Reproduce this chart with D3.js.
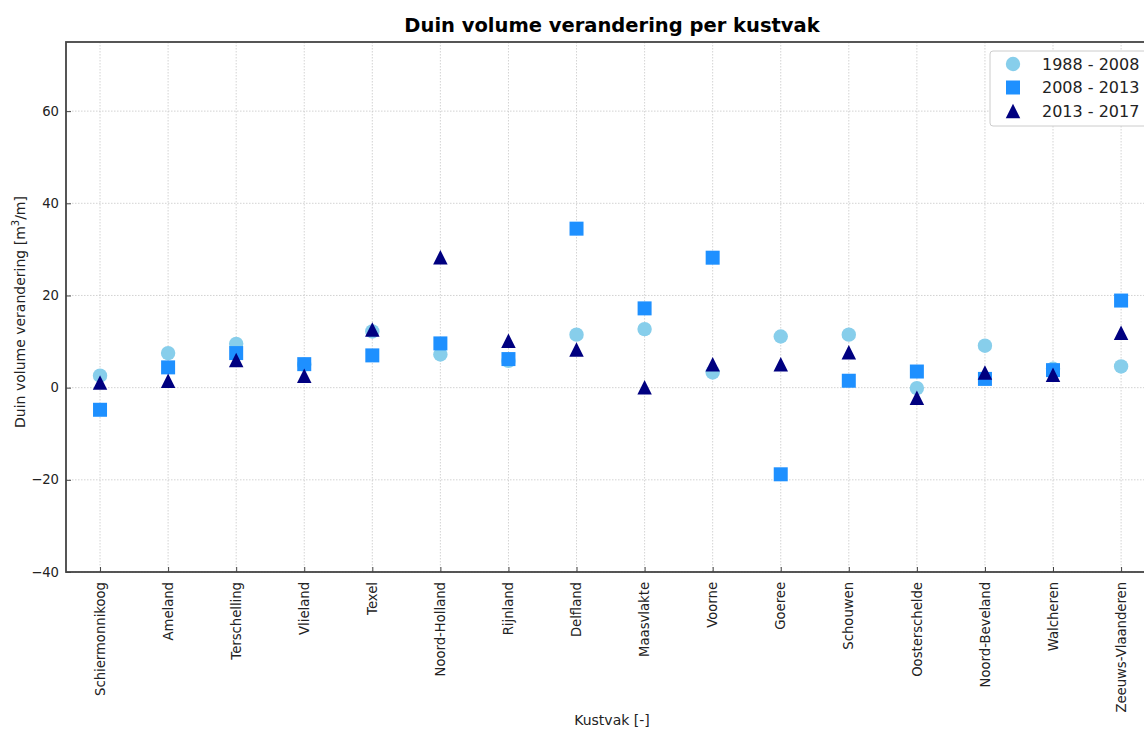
<!DOCTYPE html>
<html>
<head>
<meta charset="utf-8">
<script src="https://cdn.jsdelivr.net/npm/d3@7"></script>
<style>
  html, body { margin: 0; padding: 0; background: #fff; overflow: hidden; }
  svg { display: block; font-family: "DejaVu Sans", sans-serif; }
</style>
</head>
<body>
<svg id="chart" width="1144" height="729"></svg>
<script>
// Coastal sections (kustvakken), north to south
const kustvakken = ["Schiermonnikoog", "Ameland", "Terschelling", "Vlieland", "Texel",
  "Noord-Holland", "Rijnland", "Delfland", "Maasvlakte", "Voorne", "Goeree",
  "Schouwen", "Oosterschelde", "Noord-Beveland", "Walcheren", "Zeeuws-Vlaanderen"];

// Dune volume change per period [m3/m]
const periode1988_2008 = [2.6, 7.5, 9.5, 5.0, 12.2, 7.2, 5.8, 11.5, 12.7, 3.3, 11.1, 11.5, -0.1, 9.1, 4.1, 4.6];
const periode2008_2013 = [-4.8, 4.4, 7.5, 5.1, 7.0, 9.6, 6.2, 34.5, 17.2, 28.2, -18.8, 1.5, 3.5, 1.9, 3.8, 18.9];
const periode2013_2017 = [1.1, 1.5, 6.0, 2.6, 12.6, 28.3, 10.2, 8.3, 0.1, 5.1, 5.1, 7.7, -2.2, 3.3, 2.8, 11.9];

const yTicks = [-40, -20, 0, 20, 40, 60];
const periodLabels = ["1988 - 2008", "2008 - 2013", "2013 - 2017"];

const svg = d3.select("#chart");
const plotLeft = 66, plotTop = 42, plotBottom = 572;
const step = 68.07;

const x = d3.scaleLinear().domain([-0.5, kustvakken.length + 0.5])
  .range([plotLeft, plotLeft + step * (kustvakken.length + 1)]);
const y = d3.scaleLinear().domain([-40, 75]).range([plotBottom, plotTop]);
const plotRight = x.range()[1];

// Grid
const grid = svg.append("g");
grid.selectAll("line.gx").data(kustvakken).join("line")
  .attr("x1", (d, i) => x(i)).attr("x2", (d, i) => x(i))
  .attr("y1", plotTop).attr("y2", plotBottom)
  .attr("stroke", "#c8c8c8").attr("stroke-width", 0.8).attr("stroke-dasharray", "1.5,1.5");
grid.selectAll("line.gy").data(yTicks).join("line")
  .attr("x1", plotLeft).attr("x2", plotRight)
  .attr("y1", d => y(d)).attr("y2", d => y(d))
  .attr("stroke", "#c8c8c8").attr("stroke-width", 0.8).attr("stroke-dasharray", "1.5,1.5");

// Axes (ticks pointing inward)
const fmt = d => (d < 0 ? "\u2212" + Math.abs(d) : String(d));
const yAxis = svg.append("g").attr("transform", `translate(${plotLeft},0)`)
  .call(d3.axisRight(y).tickValues(yTicks).tickSize(5).tickFormat(""));
yAxis.select(".domain").remove();
yAxis.selectAll(".tick line").attr("stroke", "#444");

svg.append("g").selectAll("text").data(yTicks).join("text")
  .attr("x", plotLeft - 7).attr("y", d => y(d)).attr("dy", "0.35em")
  .attr("text-anchor", "end").attr("font-size", 13.2).attr("fill", "#222")
  .text(fmt);

const xAxis = svg.append("g").attr("transform", `translate(0,${plotBottom})`)
  .call(d3.axisTop(x).tickValues(d3.range(kustvakken.length)).tickSize(5).tickFormat(""));
xAxis.select(".domain").remove();
xAxis.selectAll(".tick line").attr("stroke", "#444");

svg.append("g").selectAll("text").data(kustvakken).join("text")
  .attr("transform", (d, i) => `translate(${x(i)},${plotBottom + 10}) rotate(-90)`)
  .attr("text-anchor", "end").attr("dy", "0.35em")
  .attr("font-size", 13.2).attr("fill", "#222")
  .text(d => d);

// Frame
svg.append("rect").attr("x", plotLeft).attr("y", plotTop)
  .attr("width", plotRight - plotLeft).attr("height", plotBottom - plotTop)
  .attr("fill", "none").attr("stroke", "#444").attr("stroke-width", 1.8);

// Markers: upward triangle centred on its bounding box
const triangleUp = {
  draw(ctx, size) {
    const h = Math.sqrt(size) / 2;
    ctx.moveTo(0, -h);
    ctx.lineTo(h, h);
    ctx.lineTo(-h, h);
    ctx.closePath();
  }
};
const marks = svg.append("g");
const circleSym = d3.symbol().type(d3.symbolCircle).size(Math.PI * 7.2 * 7.2);
const squareSym = d3.symbol().type(d3.symbolSquare).size(14 * 14);
const triSym = d3.symbol().type(triangleUp).size(14.5 * 14.5);

marks.selectAll("path.c").data(periode1988_2008).join("path")
  .attr("d", circleSym).attr("fill", "#87CEEB")
  .attr("transform", (d, i) => `translate(${x(i)},${y(d)})`);
marks.selectAll("path.s").data(periode2008_2013).join("path")
  .attr("d", squareSym).attr("fill", "#1E90FF")
  .attr("transform", (d, i) => `translate(${x(i)},${y(d)})`);
marks.selectAll("path.t").data(periode2013_2017).join("path")
  .attr("d", triSym).attr("fill", "#000080")
  .attr("transform", (d, i) => `translate(${x(i)},${y(d)})`);

// Legend
const lg = svg.append("g");
lg.append("rect").attr("x", 990).attr("y", 51).attr("width", 180).attr("height", 75)
  .attr("rx", 3).attr("fill", "#fff").attr("stroke", "#ccc").attr("stroke-width", 1);
const legendSyms = [
  { sym: circleSym, color: "#87CEEB" },
  { sym: squareSym, color: "#1E90FF" },
  { sym: triSym, color: "#000080" }
];
periodLabels.forEach((lab, k) => {
  const ly = 64 + k * 23.5;
  lg.append("path").attr("d", legendSyms[k].sym).attr("fill", legendSyms[k].color)
    .attr("transform", `translate(1013,${ly})`);
  lg.append("text").attr("x", 1042).attr("y", ly).attr("dy", "0.35em")
    .attr("font-size", 16).attr("fill", "#222").text(lab);
});

// Titles
svg.append("text").attr("x", 612).attr("y", 32).attr("text-anchor", "middle")
  .attr("font-size", 19.5).attr("font-weight", "bold").attr("fill", "#000")
  .text("Duin volume verandering per kustvak");

svg.append("text").attr("x", 612).attr("y", 725).attr("text-anchor", "middle")
  .attr("font-size", 14).attr("fill", "#222").text("Kustvak [-]");

const yl = svg.append("text")
  .attr("transform", `translate(25,312) rotate(-90)`)
  .attr("text-anchor", "middle").attr("font-size", 14).attr("fill", "#222");
yl.append("tspan").text("Duin volume verandering [m");
yl.append("tspan").attr("font-size", 10).attr("dy", -6).text("3");
yl.append("tspan").attr("dy", 6).text("/m]");
</script>
</body>
</html>
